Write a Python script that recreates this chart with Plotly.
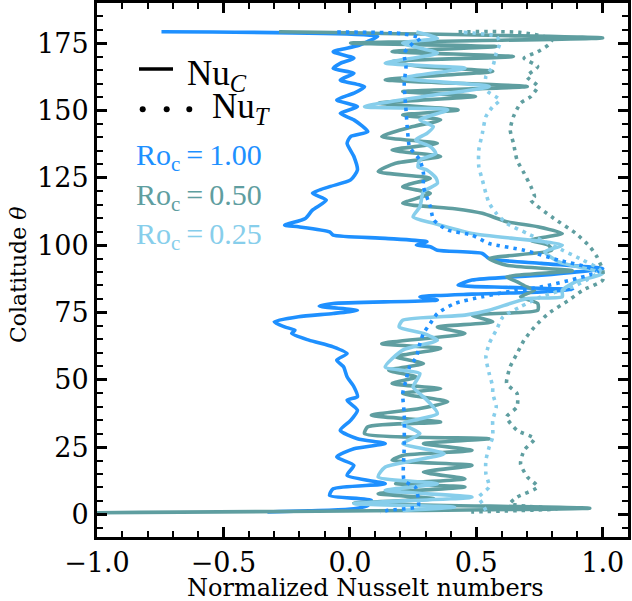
import plotly.graph_objects as go

# ---------------- data ----------------
# Ro_c = 1.00, Nu_C (solid)
theta_c100 = [179.2, 177.5, 175.6, 174.0, 171.8, 169.4, 167.5, 165.6, 163.8, 161.3, 158.8, 156.4, 153.9, 151.4,
              148.9, 146.5, 142.1, 140.3, 137.8, 132.9, 127.9, 124.2, 121.7, 119.3, 116.7, 113.0, 109.9, 107.4,
              106.8, 104.9, 103.7, 102.5, 101.2, 100.0, 99.4, 98.1, 96.9, 95.0, 93.2, 91.3, 88.8, 87.0, 85.1,
              84.3, 83.5, 82.6, 81.8, 80.8, 79.6, 78.3, 77.3, 75.8, 74.6, 73.4, 71.5, 69.6, 68.4, 67.2, 64.7,
              62.2, 59.7, 57.3, 54.8, 51.1, 47.4, 43.7, 42.4, 38.7, 34.9, 31.2, 28.1, 26.3, 24.4, 21.3, 18.2,
              14.5, 11.4, 9.5, 7.0, 5.2, 3.3, 2.1, 0.9]
nu_c100 = [-0.745, 0.11, 0.07, 0.03, -0.066, 0.016, -0.038, -0.066, 0.016, -0.038, 0.058, 0.016, -0.052, 0.030,
           -0.038, 0.016, 0.071, 0.003, -0.011, 0.016, 0.030, 0.003, -0.080, -0.148, -0.093, -0.148, -0.176, -0.258,
           -0.203, -0.080, -0.066, 0.140, 0.305, 0.263, 0.318, 0.346, 0.524, 0.551, 0.757, 1.0, 0.757, 0.483, 0.428,
           0.620, 0.881, 0.757, 0.483, 0.277, 0.346, -0.066, -0.121, 0.030, -0.066, -0.203, -0.299, -0.258, -0.217,
           -0.230, -0.162, -0.066, -0.011, -0.052, -0.025, -0.011, 0.016, 0.030, -0.011, 0.030, 0.003, -0.038,
           0.030, 0.140, 0.016, -0.052, 0.016, -0.011, 0.140, -0.066, -0.080, 0.085, 0.071, 0.016, -0.326]

# Ro_c = 0.50, Nu_C (solid)
theta_c050 = [179.2, 176.9, 175.0, 173.7, 171.9, 170.0, 168.2, 166.3, 164.5, 161.4, 158.9, 157.0, 155.2, 152.7,
              150.2, 148.3, 146.5, 144.0, 140.3, 137.8, 135.3, 132.9, 130.4, 127.3, 124.8, 121.7, 119.2, 115.5,
              113.5, 111.8, 108.7, 106.8, 104.3, 101.8, 100.0, 98.1, 95.0, 92.5, 90.5, 88.2, 86.4, 84.5, 83.2,
              80.8, 78.3, 75.8, 74.0, 71.5, 69.6, 67.2, 63.4, 61.6, 58.5, 56.0, 53.5, 51.0, 48.6, 46.7, 44.9,
              41.8, 39.3, 36.8, 34.3, 32.5, 30.0, 28.1, 26.3, 23.8, 21.9, 20.1, 18.2, 15.7, 13.2, 11.4, 10.2,
              7.7, 5.8, 4.2, 2.3, 0.6]
nu_c050 = [-0.28, 1.0, 0.003, 0.579, 0.167, 0.647, 0.167, 0.277, 0.565, 0.140, 0.702, 0.209, 0.497, 0.112,
           0.428, 0.209, 0.359, 0.250, 0.126, 0.346, 0.167, 0.359, 0.181, 0.112, 0.318, 0.209, 0.318, 0.209,
           0.414, 0.524, 0.620, 0.743, 0.840, 0.716, 0.785, 0.798, 0.551, 0.620, 0.880, 0.620, 0.660, 0.700, 0.730,
           0.675, 0.743, 0.743, 0.483, 0.565, 0.346, 0.455, 0.126, 0.359, 0.181, 0.291, 0.154, 0.263, 0.167, 0.359,
           0.209, 0.387, 0.277, 0.085, 0.359, 0.071, 0.058, 0.551, 0.291, 0.483, 0.209, 0.167, 0.483, 0.291,
           0.455, 0.181, 0.455, 0.112, 0.332, 0.016, 0.949, -1.0]

# Ro_c = 0.25, Nu_C (solid)
theta_c025 = [179.1, 176.8, 175.0, 171.3, 167.6, 165.7, 162.0, 158.9, 155.2, 151.4, 150.2, 146.5, 144.0, 141.5,
              139.0, 136.6, 134.0, 131.6, 129.0, 127.9, 125.0, 122.9, 119.8, 114.2, 110.5, 108.1, 104.3, 100.0,
              97.5, 93.8, 89.5, 86.4, 83.2, 80.8, 80.2, 75.8, 74.0, 72.1, 69.6, 67.2, 64.7, 61.0, 54.7, 52.3,
              47.3, 44.8, 42.4, 37.4, 33.7, 30.0, 26.3, 22.5, 17.6, 13.9, 11.4, 8.9, 6.4, 4.0, 2.7, 1.5]
nu_c025 = [0.263, 0.346, 0.209, 0.346, 0.140, 0.455, 0.209, 0.551, 0.291, 0.058, 0.387, 0.277, 0.330, 0.305,
           0.260, 0.318, 0.340, 0.277, 0.270, 0.305, 0.340, 0.346, 0.291, 0.277, 0.250, 0.332, 0.483, 0.840,
           0.771, 0.826, 1.0, 0.894, 0.840, 0.840, 0.702, 0.551, 0.455, 0.209, 0.195, 0.291, 0.346, 0.209, 0.140,
           0.277, 0.250, 0.277, 0.305, 0.346, 0.209, 0.277, 0.209, 0.373, 0.140, 0.112, 0.346, 0.140, 0.483,
           0.016, 0.414, 0.209]

# Ro_c = 1.00, Nu_T (dotted)
theta_t100 = [179.1, 178.6, 176.8, 175.0, 171.3, 166.3, 160.1, 150.2, 141.5, 136.5, 131.6, 126.7, 121.7, 114.3,
              109.3, 105.6, 103.7, 100.6, 98.1, 94.4, 91.9, 90.1, 84.5, 82.6, 80.8, 78.3, 74.6, 70.9, 67.2,
              63.4, 58.5, 54.7, 49.8, 44.9, 37.4, 25.0, 12.6, 10.0, 6.0, 3.0, 1.5, 0.8]
nu_t100 = [-0.05, 0.20, 0.28, 0.25, 0.215, 0.222, 0.215, 0.222, 0.229, 0.236, 0.277, 0.291, 0.291, 0.318,
           0.332, 0.387, 0.483, 0.551, 0.689, 0.826, 0.936, 0.98, 0.757, 0.620, 0.524, 0.414, 0.346, 0.318, 0.291,
           0.277, 0.263, 0.236, 0.222, 0.209, 0.215, 0.215, 0.215, 0.26, 0.27, 0.27, 0.15, 0.12]

# Ro_c = 0.50, Nu_T (dotted)
theta_t050 = [179.2, 179.0, 176.5, 174.3, 171.8, 169.4, 166.3, 162.6, 159.0, 155.2, 152.7, 147.7, 142.8, 137.8,
              131.6, 126.7, 121.7, 118.0, 116.7, 110.5, 104.3, 99.4, 95.7, 90.7, 87.0, 83.3, 79.6, 74.6, 69.6,
              64.7, 59.7, 54.8, 48.6, 44.9, 39.9, 36.2, 31.2, 28.1, 23.8, 18.8, 13.9, 10.2, 6.4, 4.0, 2.1, 0.9]
nu_t050 = [0.43, 0.67, 0.80, 0.785, 0.743, 0.689, 0.743, 0.70, 0.743, 0.716, 0.675, 0.647, 0.634, 0.647,
           0.661, 0.689, 0.716, 0.730, 0.716, 0.798, 0.894, 0.949, 0.977, 1.0, 1.0, 0.922, 0.867, 0.785, 0.730,
           0.689, 0.661, 0.634, 0.620, 0.661, 0.661, 0.620, 0.661, 0.730, 0.689, 0.675, 0.702, 0.743, 0.661,
           0.634, 0.82, 0.48]

# Ro_c = 0.25, Nu_T (dotted)
theta_t025 = [179.0, 177.5, 175.0, 171.3, 166.3, 162.6, 157.6, 153.9, 151.4, 147.7, 141.5, 135.3, 129.1, 124.2,
              119.2, 115.5, 111.8, 108.1, 104.3, 99.4, 94.4, 90.7, 87.0, 84.5, 80.8, 77.1, 73.4, 68.4, 63.4,
              58.5, 52.3, 47.4, 44.9, 39.9, 34.9, 28.7, 25.0, 20.1, 15.1, 10.2, 6.4, 4.0, 1.5]
nu_t025 = [0.45, 0.58, 0.593, 0.579, 0.565, 0.538, 0.538, 0.593, 0.565, 0.538, 0.524, 0.510, 0.510, 0.524,
           0.538, 0.551, 0.579, 0.620, 0.702, 0.812, 0.922, 0.990, 0.936, 0.881, 0.757, 0.675, 0.606, 0.579,
           0.551, 0.538, 0.551, 0.565, 0.565, 0.579, 0.565, 0.565, 0.551, 0.538, 0.538, 0.551, 0.510, 0.524, 0.538]

ro_labels = ["1.00", "0.50", "0.25"]
x_ticks = [-1.0, -0.5, 0.0, 0.5, 1.0]
y_ticks = [0, 25, 50, 75, 100, 125, 150, 175]

# ---------------- styling ----------------
C100 = "#1E90FF"   # dodgerblue
C050 = "#5F9EA0"   # cadetblue
C025 = "#87CEEB"   # skyblue
LW = 3.6
DOT = "3.5px,5px"

fig = go.Figure()
series = [
    (nu_c100, theta_c100, C100, "solid"),
    (nu_c050, theta_c050, C050, "solid"),
    (nu_c025, theta_c025, C025, "solid"),
    (nu_t100, theta_t100, C100, DOT),
    (nu_t050, theta_t050, C050, DOT),
    (nu_t025, theta_t025, C025, DOT),
]
for xs, ys, col, dash in series:
    fig.add_trace(go.Scatter(x=xs, y=ys, mode="lines", showlegend=False,
                             line=dict(color=col, width=LW, dash=dash, shape="spline", smoothing=0.6),
                             hoverinfo="skip"))

L, R, T, B = 97, 4, 3, 64
W, H = 632, 601
PW, PH = W - L - R, H - T - B

TICKFONT = dict(family="DejaVu Serif", size=27, color="black")
common = dict(showgrid=False, zeroline=False, showline=True, linecolor="black", linewidth=3,
              mirror="allticks", ticks="inside", ticklen=10, tickwidth=2.5, tickcolor="black",
              tickfont=TICKFONT, automargin=False)
fig.update_layout(
    width=W, height=H,
    margin=dict(l=L, r=R, t=T, b=B, autoexpand=False),
    paper_bgcolor="white", plot_bgcolor="white",
    xaxis=dict(range=[-1.0, 1.1], tickvals=x_ticks, tickformat=".1f",
               minor=dict(dtick=0.1, ticks="inside", ticklen=6, tickwidth=2, tickcolor="black", showgrid=False),
               **common),
    yaxis=dict(range=[-8.4, 189.9], tickvals=y_ticks,
               minor=dict(dtick=5, ticks="inside", ticklen=6, tickwidth=2, tickcolor="black", showgrid=False),
               **common),
)

def px_to_paper(px, py):
    return (px - L) / PW, (H - B - py) / PH

# axis titles
ax, ay = px_to_paper(365, 588)
fig.add_annotation(xref="paper", yref="paper", x=ax, y=ay, xanchor="center", yanchor="middle",
                   text="Normalized Nusselt numbers", showarrow=False,
                   font=dict(family="DejaVu Serif", size=24, color="black"))
ax, ay = px_to_paper(18, 275)
fig.add_annotation(xref="paper", yref="paper", x=ax, y=ay, xanchor="center", yanchor="middle",
                   text="Colatitude <i>θ</i>", showarrow=False, textangle=-90,
                   font=dict(family="DejaVu Serif", size=22, color="black"))

# legend (line-style key and coloured Ro_c labels)
x0, y0 = px_to_paper(139, 69)
x1, _ = px_to_paper(173, 69)
fig.add_shape(type="line", xref="paper", yref="paper", x0=x0, x1=x1, y0=y0, y1=y0,
              line=dict(color="black", width=3.5))
for dx in (142.7, 166.7, 189.3):
    cx, cy = px_to_paper(dx, 109.3)
    r = 3.0
    fig.add_shape(type="circle", xref="paper", yref="paper",
                  x0=cx - r / PW, x1=cx + r / PW, y0=cy - r / PH, y1=cy + r / PH,
                  fillcolor="black", line=dict(width=0))

LEGFONT = "Liberation Serif"
ax, ay = px_to_paper(185, 75)
fig.add_annotation(xref="paper", yref="paper", x=ax, y=ay, xanchor="left", yanchor="middle",
                   text="Nu<sub><i>C</i></sub>", showarrow=False,
                   font=dict(family=LEGFONT, size=35, color="black"))
ax, ay = px_to_paper(210, 108)
fig.add_annotation(xref="paper", yref="paper", x=ax, y=ay, xanchor="left", yanchor="middle",
                   text="Nu<sub><i>T</i></sub>", showarrow=False,
                   font=dict(family=LEGFONT, size=35, color="black"))
for lab, col, py in zip(ro_labels, [C100, C050, C025], [157, 197, 236]):
    ax, ay = px_to_paper(134, py)
    fig.add_annotation(xref="paper", yref="paper", x=ax, y=ay, xanchor="left", yanchor="middle",
                       text="Ro<sub>c</sub>\u2009=\u20091.00".replace("1.00", lab), showarrow=False,
                       font=dict(family=LEGFONT, size=30, color=col))

fig.write_html("out.html", config={"displayModeBar": False},
               post_script="document.body.style.margin='0';document.body.style.padding='0';")
